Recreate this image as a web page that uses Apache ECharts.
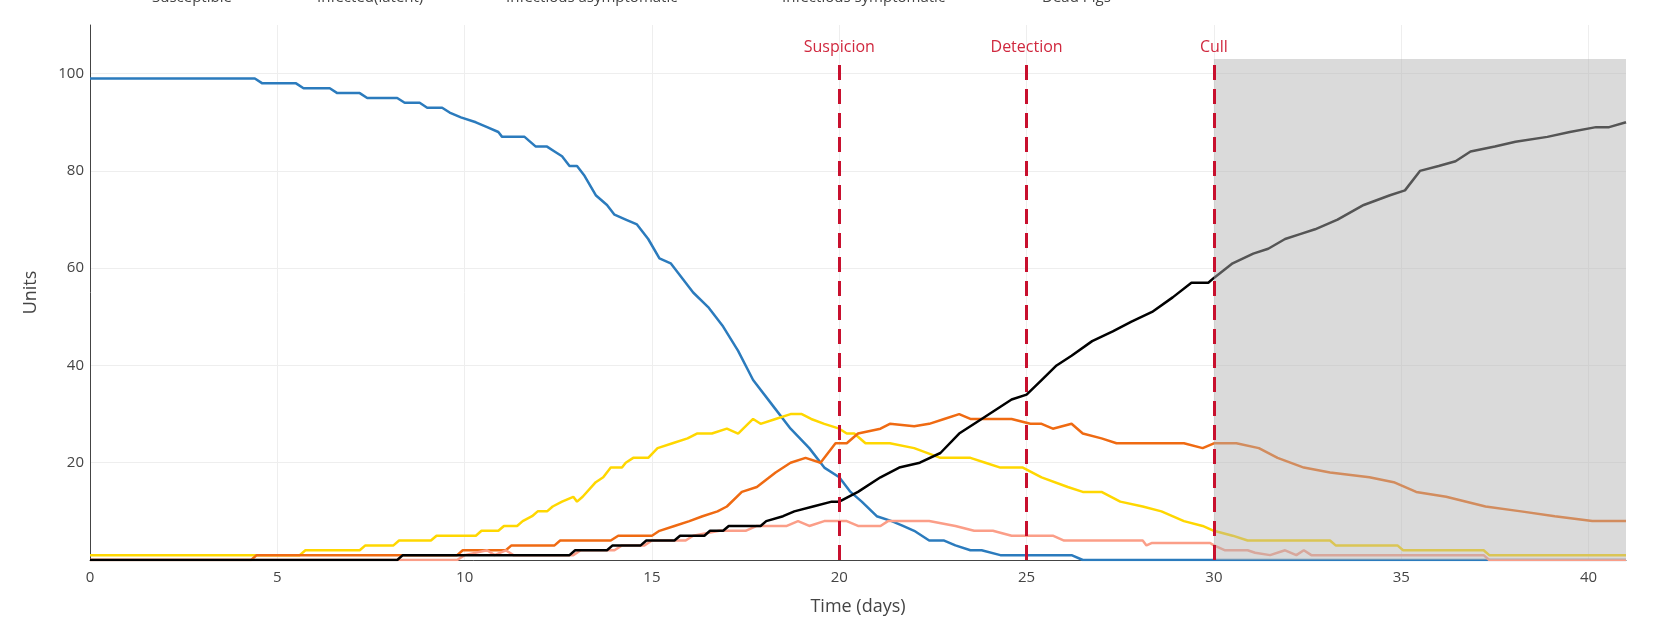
<!DOCTYPE html>
<html>
<head>
<meta charset="utf-8">
<script src="https://cdn.jsdelivr.net/npm/echarts@6/dist/echarts.min.js"></script>
<style>
  html, body { margin: 0; padding: 0; background: #fff; }
  #chart { width: 1653px; height: 630px; }
</style>
</head>
<body>
<div id="chart"></div>
<script>
// Compartment names, in drawing order
const seriesNames = ['Susceptible', 'Infected(latent)', 'Infectious asymptomatic', 'Infectious symptomatic', 'Dead Pigs'];

// Susceptible units over time (days)
const susceptibleT = [0, 4.4, 4.6, 5.5, 5.7, 6.4, 6.6, 7.2, 7.4, 8.2, 8.4, 8.8, 9.0, 9.4, 9.6, 9.9, 10.3, 10.6, 10.9, 11.0, 11.6, 11.9, 12.2, 12.4, 12.6, 12.8, 13.0, 13.2, 13.5, 13.8, 14.0, 14.3, 14.6, 14.9, 15.2, 15.5, 15.7, 16.1, 16.5, 16.9, 17.3, 17.7, 18.2, 18.7, 19.2, 19.6, 20.0, 20.3, 20.6, 21.0, 21.4, 21.7, 22.0, 22.4, 22.8, 23.1, 23.5, 23.8, 24.3, 26.2, 26.5, 41];
const susceptibleV = [99, 99, 98, 98, 97, 97, 96, 96, 95, 95, 94, 94, 93, 93, 92, 91, 90, 89, 88, 87, 87, 85, 85, 84, 83, 81, 81, 79, 75, 73, 71, 70, 69, 66, 62, 61, 59, 55, 52, 48, 43, 37, 32, 27, 23, 19, 17, 14, 12, 9, 8, 7, 6, 4, 4, 3, 2, 2, 1, 1, 0, 0];

// Infected (latent) units
const latentT = [0, 5.6, 5.75, 7.2, 7.35, 8.1, 8.25, 9.1, 9.25, 10.3, 10.45, 10.9, 11.05, 11.4, 11.55, 11.8, 11.95, 12.2, 12.35, 12.6, 12.9, 13.0, 13.15, 13.5, 13.7, 13.9, 14.2, 14.3, 14.5, 14.9, 15.15, 15.55, 15.95, 16.2, 16.6, 17.0, 17.3, 17.7, 17.9, 18.3, 18.7, 19.0, 19.25, 19.6, 20.0, 20.2, 20.4, 20.7, 21.35, 22.0, 22.7, 23.5, 23.9, 24.3, 24.9, 25.4, 26.1, 26.5, 27.0, 27.5, 28.1, 28.6, 29.2, 29.7, 30.0, 30.5, 30.9, 33.1, 33.25, 34.9, 35.05, 37.2, 37.35, 41];
const latentV = [1, 1, 2, 2, 3, 3, 4, 4, 5, 5, 6, 6, 7, 7, 8, 9, 10, 10, 11, 12, 13, 12, 13, 16, 17, 19, 19, 20, 21, 21, 23, 24, 25, 26, 26, 27, 26, 29, 28, 29, 30, 30, 29, 28, 27, 26, 26, 24, 24, 23, 21, 21, 20, 19, 19, 17, 15, 14, 14, 12, 11, 10, 8, 7, 6, 5, 4, 4, 3, 3, 2, 2, 1, 1];

// Infectious asymptomatic units
const asymptomaticT = [0, 4.3, 4.45, 9.8, 9.95, 11.1, 11.25, 12.4, 12.55, 13.9, 14.1, 15.0, 15.2, 15.6, 16.0, 16.35, 16.75, 17.0, 17.4, 17.8, 18.3, 18.7, 19.1, 19.5, 19.9, 20.2, 20.5, 21.1, 21.35, 22.0, 22.4, 22.8, 23.2, 23.5, 24.0, 24.6, 25.1, 25.4, 25.7, 26.2, 26.5, 27.0, 27.4, 28.1, 28.4, 29.2, 29.7, 30.0, 30.6, 31.2, 31.7, 32.4, 33.1, 34.15, 34.8, 35.4, 36.2, 37.25, 38.2, 39.1, 40.1, 41];
const asymptomaticV = [0, 0, 1, 1, 2, 2, 3, 3, 4, 4, 5, 5, 6, 7, 8, 9, 10, 11, 14, 15, 18, 20, 21, 20, 24, 24, 26, 27, 28, 27.5, 28, 29, 30, 29, 29, 29, 28, 28, 27, 28, 26, 25, 24, 24, 24, 24, 23, 24, 24, 23, 21, 19, 18, 17, 16, 14, 13, 11, 10, 9, 8, 8];

// Infectious symptomatic units
const symptomaticT = [0, 9.8, 10.0, 10.6, 10.8, 11.1, 11.3, 12.9, 13.1, 14.0, 14.2, 14.8, 15.0, 15.9, 16.1, 16.8, 17.5, 17.8, 18.6, 18.9, 19.2, 19.6, 20.2, 20.5, 21.1, 21.3, 22.0, 22.4, 23.1, 23.6, 24.1, 24.6, 25.7, 26.0, 28.1, 28.2, 28.35, 29.9, 30.0, 30.3, 30.9, 31.1, 31.5, 31.9, 32.2, 32.4, 32.6, 37.2, 37.35, 41];
const symptomaticV = [0, 0, 1, 2, 1, 2, 1, 1, 2, 2, 3, 3, 4, 4, 5, 6, 6, 7, 7, 8, 7, 8, 8, 7, 7, 8, 8, 8, 7, 6, 6, 5, 5, 4, 4, 3, 3.5, 3.5, 3, 2, 2, 1.5, 1, 2, 1, 2, 1, 1, 0, 0];

// Dead pigs (cumulative)
const deadT = [0, 8.2, 8.35, 12.8, 12.95, 13.8, 13.95, 14.7, 14.85, 15.6, 15.75, 16.4, 16.55, 16.9, 17.05, 17.9, 18.05, 18.5, 18.8, 19.3, 19.8, 20.0, 20.5, 21.1, 21.6, 22.15, 22.7, 23.2, 23.8, 24.6, 25.0, 25.4, 25.8, 26.2, 26.75, 27.3, 27.8, 28.35, 28.9, 29.4, 29.85, 30.0, 30.5, 31.05, 31.45, 31.9, 32.3, 32.7, 33.3, 34.0, 34.7, 35.1, 35.5, 36.0, 36.45, 36.85, 37.5, 38.05, 38.9, 39.5, 40.2, 40.55, 41];
const deadV = [0, 0, 1, 1, 2, 2, 3, 3, 4, 4, 5, 5, 6, 6, 7, 7, 8, 9, 10, 11, 12, 12, 14, 17, 19, 20, 22, 26, 29, 33, 34, 37, 40, 42, 45, 47, 49, 51, 54, 57, 57, 58, 61, 63, 64, 66, 67, 68, 70, 73, 75, 76, 80, 81, 82, 84, 85, 86, 87, 88, 89, 89, 90];

// Control events (day) and their labels
const eventDays = [20, 25, 30];
const eventNames = ['Suspicion', 'Detection', 'Cull'];
const eventTop = 102;

// Post-cull period shown shaded
const shadeDays = [30, 41];
const shadeTop = 103;

const seriesT = [susceptibleT, latentT, asymptomaticT, symptomaticT, deadT];
const seriesV = [susceptibleV, latentV, asymptomaticV, symptomaticV, deadV];
const seriesColors = ['#2b7bbd', '#ffd700', '#ef6a12', '#fb9e88', '#000000'];

const font = 'Open Sans, Noto Sans, sans-serif';
const textGrey = '#444';

const lineSeries = seriesNames.map((name, i) => ({
  name: name,
  type: 'line',
  data: seriesT[i].map((t, j) => [t, seriesV[i][j]]),
  showSymbol: false,
  symbol: 'none',
  lineStyle: { width: 2.5, color: seriesColors[i] },
  itemStyle: { color: seriesColors[i] },
  z: 2 + i,
  animation: false
}));

// Grey overlay for the post-cull period
lineSeries.push({
  name: 'shade',
  type: 'line',
  data: [],
  z: 20,
  silent: true,
  markArea: {
    silent: true,
    z: 20,
    itemStyle: { color: 'rgba(177,177,177,0.48)' },
    data: [[{ coord: [shadeDays[0], 0] }, { coord: [shadeDays[1], shadeTop] }]]
  }
});

// Dashed event markers with labels
lineSeries.push({
  name: 'events',
  type: 'line',
  data: [],
  z: 30,
  silent: true,
  markLine: {
    silent: true,
    z: 30,
    symbol: ['none', 'none'],
    animation: false,
    lineStyle: { color: '#c8102e', width: 3, type: [15, 9], opacity: 1 },
    label: {
      show: true,
      position: 'end',
      distance: 8,
      color: '#d0283e',
      fontSize: 16,
      fontFamily: font,
      formatter: p => p.name
    },
    data: eventDays.map((d, i) => [
      { name: eventNames[i], coord: [d, 0] },
      { coord: [d, eventTop] }
    ])
  }
});

// One legend block per compartment so each entry sits at its own spot
const legendLefts = [108, 273, 462, 738, 998];
const legends = seriesNames.map((name, i) => ({
  data: [{ name: name, icon: 'rect' }],
  left: legendLefts[i],
  top: -15,
  itemWidth: 34,
  itemHeight: 2.5,
  selectedMode: false,
  textStyle: { fontSize: 15, color: textGrey, fontFamily: font }
}));

const chart = echarts.init(document.getElementById('chart'), null, { renderer: 'canvas' });
chart.setOption({
  animation: false,
  backgroundColor: '#fff',
  legend: legends,
  grid: { left: 90, right: 27, top: 25, bottom: 70, containLabel: false },
  xAxis: {
    type: 'value',
    min: 0,
    max: 41,
    interval: 5,
    name: 'Time (days)',
    nameLocation: 'middle',
    nameGap: 38,
    nameTextStyle: { fontSize: 18, color: textGrey, fontFamily: font },
    axisLine: { show: true, onZero: false, lineStyle: { color: '#444', width: 1 } },
    axisTick: { show: false },
    axisLabel: {
      fontSize: 15, color: textGrey, fontFamily: font, margin: 10,
      formatter: v => (v % 5 === 0 ? String(v) : '')
    },
    splitLine: { show: true, showMaxLine: false, lineStyle: { color: '#eeeeee', width: 1 } }
  },
  yAxis: {
    type: 'value',
    min: 0,
    max: 110,
    interval: 20,
    name: 'Units',
    nameLocation: 'middle',
    nameGap: 50,
    nameRotate: 90,
    nameTextStyle: { fontSize: 18, color: textGrey, fontFamily: font },
    axisLine: { show: true, lineStyle: { color: '#444', width: 1 } },
    axisTick: { show: false },
    axisLabel: {
      fontSize: 15, color: textGrey, fontFamily: font, margin: 6,
      formatter: v => (v > 0 && v % 20 === 0 ? String(v) : '')
    },
    splitLine: { show: true, showMaxLine: false, showMinLine: false, lineStyle: { color: '#eeeeee', width: 1 } }
  },
  series: lineSeries
});
</script>
</body>
</html>
